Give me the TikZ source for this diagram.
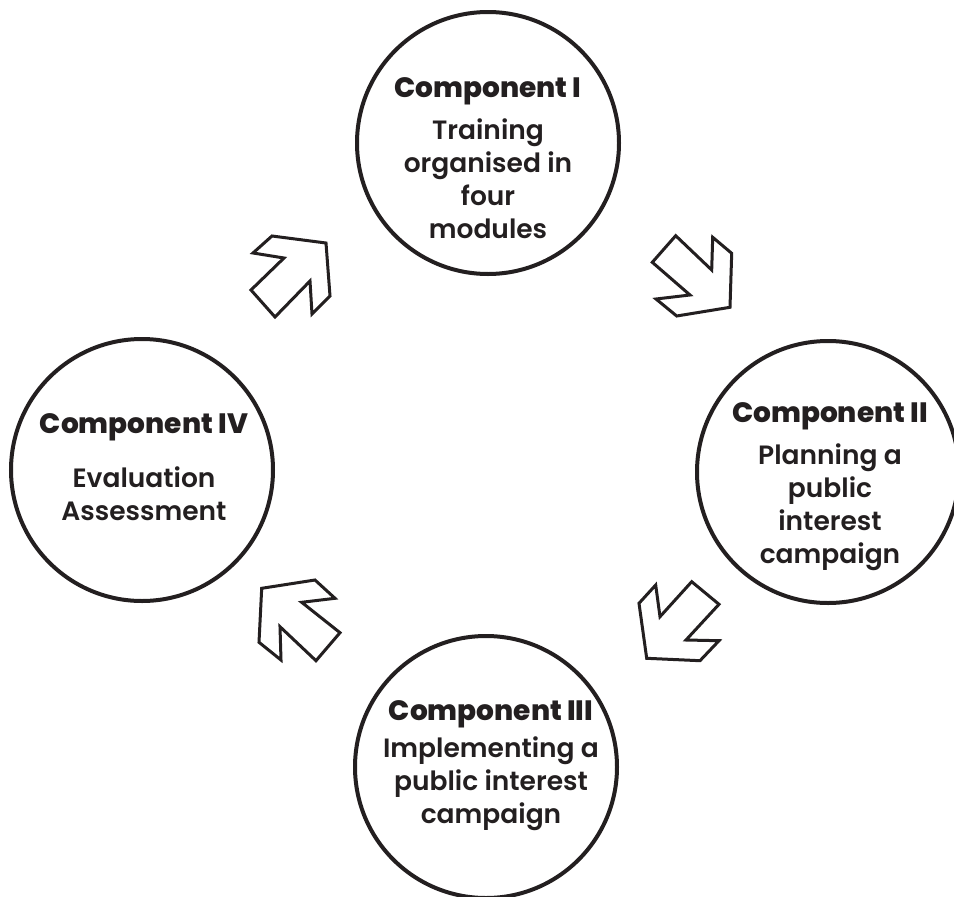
\documentclass[tikz,border=0pt]{standalone}
\usepackage{fontspec}
\setmainfont{Poppins}
\newfontfamily\titlefont{Poppins ExtraBold}
\newfontfamily\bodyfont{Poppins SemiBold}
\definecolor{ink}{HTML}{231F20}
\begin{document}
\begin{tikzpicture}[x=1pt,y=-1pt,
  stage/.style={circle,draw=ink,line width=4pt,minimum size=262pt,inner sep=0pt},
  heading/.style={anchor=base,inner sep=0pt,text=ink,font=\titlefont\fontsize{28}{30}\selectfont},
  body/.style={anchor=base,inner sep=0pt,text=ink,font=\bodyfont\fontsize{26.5}{33}\selectfont},
  blockarrow/.style={draw=ink,line width=3pt,line join=miter,fill=white}]
\useasboundingbox (0,0) rectangle (954,897);

% the four stages
\node[stage] (c1) at (488,143) {};
\node[stage] (c2) at (828,472) {};
\node[stage] (c3) at (486,767) {};
\node[stage] (c4) at (142,470) {};

% texts
\newcommand\lines[1]{\setlength\tabcolsep{0pt}\begin{tabular}[t]{c}#1\end{tabular}}
\node[heading] (h1) at (488,97) {Component I};
\node[body] (b1) at (488,139) {\lines{Training\\organised in\\four\\modules}};
\node[heading] (h2) at (830,422) {Component II};
\node[body] (b2) at (830,464) {\lines{Planning a\\public\\interest\\campaign}};
\node[heading] (h3) at (491,720) {Component III};
\node[body] (b3) at (491,757) {\lines{Implementing a\\public interest\\campaign}};
\node[heading] (h4) at (144,433) {Component IV};
\node[body] (b4) at (144,487) {\lines{Evaluation\\Assessment}};

% corner arrows between the stages
\draw[blockarrow] (272,236) -- (326,243) -- (330,296) -- (312,314) -- (310,281)
  -- (275,317) -- (251,290) -- (284,258) -- (253,253) -- cycle;
\draw[blockarrow] (675.7,235.7) -- (711.7,270) -- (712.7,237.3) -- (731.7,253.3)
  -- (730,307.3) -- (676.7,316) -- (656,299) -- (690,295) -- (652.3,262.3) -- cycle;
\draw[blockarrow] (691.7,581.7) -- (719,604.3) -- (686,640) -- (719,640.7)
  -- (700,660.7) -- (646.7,658.3) -- (639,603.3) -- (655.7,585) -- (660,616.7) -- cycle;
\draw[blockarrow] (261.7,588.3) -- (315,580) -- (335,598.3) -- (301.7,602.3)
  -- (340,632.7) -- (316,660.7) -- (280,626.7) -- (281,660) -- (259,642.3) -- cycle;
\end{tikzpicture}
\end{document}
